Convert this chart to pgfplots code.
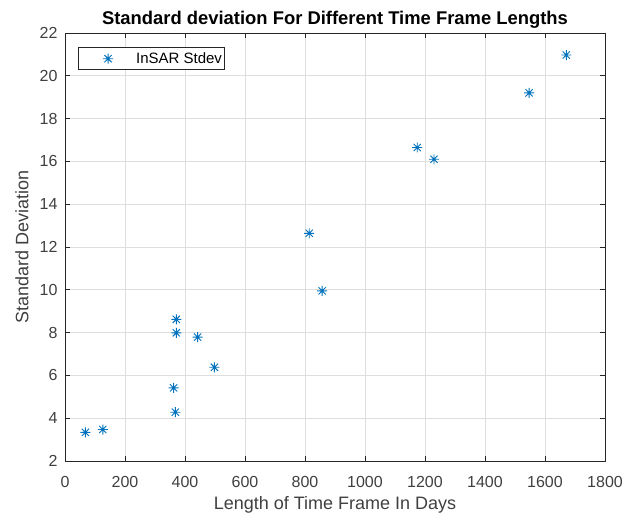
\documentclass[border=0pt]{standalone}
\usepackage{pgfplots}
\pgfplotsset{compat=1.18}
\usepackage{fontspec}
\setmainfont{Liberation Sans}
\definecolor{mblue}{RGB}{0,114,189}
\definecolor{axgray}{RGB}{38,38,38}
\pgfdeclareplotmark{mstar}{%
  \pgfpathmoveto{\pgfqpoint{0pt}{\pgfplotmarksize}}%
  \pgfpathlineto{\pgfqpoint{0pt}{-\pgfplotmarksize}}%
  \pgfpathmoveto{\pgfqpoint{\pgfplotmarksize}{0pt}}%
  \pgfpathlineto{\pgfqpoint{-\pgfplotmarksize}{0pt}}%
  \pgfpathmoveto{\pgfqpoint{0.72\pgfplotmarksize}{0.72\pgfplotmarksize}}%
  \pgfpathlineto{\pgfqpoint{-0.72\pgfplotmarksize}{-0.72\pgfplotmarksize}}%
  \pgfpathmoveto{\pgfqpoint{0.72\pgfplotmarksize}{-0.72\pgfplotmarksize}}%
  \pgfpathlineto{\pgfqpoint{-0.72\pgfplotmarksize}{0.72\pgfplotmarksize}}%
  \pgfusepathqstroke}
\begin{document}
\begin{tikzpicture}
\begin{axis}[
  scale only axis,
  width=540pt, height=428pt,
  xmin=0, xmax=1800, ymin=2, ymax=22,
  xtick={0,200,...,1800}, ytick={2,4,...,22},
  grid=major,
  major grid style={draw=black!13, line width=0.7pt},
  axis line style={draw=axgray, line width=0.8pt},
  tick style={draw=axgray, line width=0.8pt},
  tick align=inside,
  major tick length=5pt,
  ticklabel style={font=\fontsize{16}{18}\selectfont, text=black!75},
  /pgf/number format/assume math mode=true,
  scaled ticks=false,
  xticklabel style={/pgf/number format/1000 sep={}, anchor=base, yshift=-26pt},
  yticklabel style={xshift=-4pt},
  xlabel={Length of Time Frame In Days},
  ylabel={Standard Deviation},
  label style={font=\fontsize{18}{20}\selectfont, text=black!75},
  xlabel style={at={(axis description cs:0.5,0)}, anchor=base, yshift=-48pt},
  ylabel style={at={(axis description cs:0,0.5)}, anchor=center, yshift=43pt},
  title={Standard deviation For Different Time Frame Lengths},
  title style={font=\bfseries\fontsize{18.4}{20}\selectfont, at={(axis description cs:0.5,1)}, anchor=base, yshift=2pt},
  legend style={at={(axis description cs:0.0235,0.967)}, anchor=north west, draw=axgray,
    font=\fontsize{15}{16}\selectfont, inner xsep=0pt, inner ysep=3pt,
    legend cell align=left, line width=0.8pt},
  legend image code/.code={\path[draw=none] (0pt,0pt) -- (56pt,0pt); \draw[#1] plot coordinates {(30pt,0pt)};},
]
\addplot[only marks, mark=mstar, mark size=5pt, color=mblue, line width=0.9pt]
coordinates {
(68,3.34) (126,3.47) (362,5.42) (368,4.28) (371,8.62) (371,7.99)
(442,7.79) (498,6.38) (814,12.64) (857,9.95) (1174,16.65) (1230,16.1)
(1547,19.2) (1671,20.97)
};
\addlegendentry{InSAR Stdev\hspace{2pt}}
\end{axis}
\pgfresetboundingbox
\path (-65pt,-54pt) rectangle (559pt,461pt);
\end{tikzpicture}
\end{document}
